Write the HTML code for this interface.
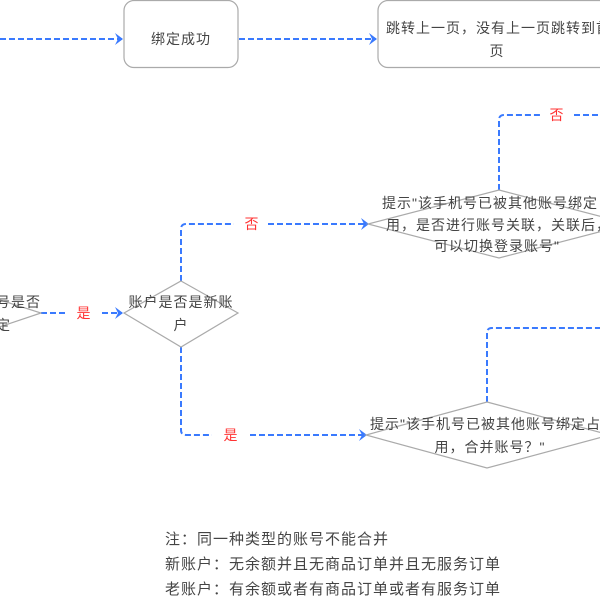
<!DOCTYPE html>
<html><head><meta charset="utf-8"><style>
body{margin:0;background:#fff;}
svg text{font-family:"Liberation Sans","Noto Sans CJK SC",sans-serif;font-size:14px;letter-spacing:1px;fill:#444;}
</style></head><body>
<svg width="600" height="600" viewBox="0 0 600 600" xmlns="http://www.w3.org/2000/svg">
<defs><marker id="a" markerWidth="10" markerHeight="12" refX="8" refY="6" orient="auto" markerUnits="userSpaceOnUse"><path d="M1,0 L9,6 L1,12 L4,6 Z" fill="#3a7afe"/></marker></defs>
<g fill="none" stroke="#3a7afe" stroke-width="2" stroke-dasharray="6,3">
<path d="M0,39 H122" marker-end="url(#a)"/>
<path d="M239,39 H376" marker-end="url(#a)"/>
<path d="M499,190 V120 Q499,115 504,115 H541 M574,115 H600"/>
<path d="M181,281 V229 Q181,224 186,224 H234 M268,224 H368" marker-end="url(#a)"/>
<path d="M41,313 H66 M102,313 H122" marker-end="url(#a)"/>
<path d="M181,347 V430 Q181,435 186,435 H212 M250,435 H366" marker-end="url(#a)"/>
<path d="M487,402 V333 Q487,328 492,328 H600"/>
</g>
<g fill="#fff" stroke="#aaa" stroke-width="1.2">
<rect x="124" y="0.5" width="114" height="67" rx="10"/>
<rect x="378" y="0.5" width="240" height="67" rx="10"/>
<path d="M499,190 L630,224 L499,258 L368,224 Z"/>
<path d="M181,281 L238,313 L181,347 L124,313 Z"/>
<path d="M-60,281 L41,313 L-60,347 Z"/>
<path d="M487,402 L610,435 L487,468 L366,435 Z"/>
</g>
<text x="181" y="44" text-anchor="middle">绑定成功</text>
<text x="386" y="33">跳转上一页，没有上一页跳转到首</text>
<text x="497" y="56" text-anchor="middle">页</text>
<text x="382" y="208">提示"该手机号已被其他账号绑定占</text>
<text x="386" y="230">用，是否进行账号关联，关联后，</text>
<text x="497" y="251" text-anchor="middle">可以切换登录账号"</text>
<text x="181" y="307" text-anchor="middle">账户是否是新账</text>
<text x="181" y="330" text-anchor="middle">户</text>
<text x="-4" y="307">号是否</text>
<text x="-4" y="330">定</text>
<text x="370" y="429">提示"该手机号已被其他账号绑定占</text>
<text x="490" y="452" text-anchor="middle">用，合并账号？"</text>
<text x="557" y="120" text-anchor="middle" style="fill:#f33">否</text>
<text x="252" y="229" text-anchor="middle" style="fill:#f33">否</text>
<text x="84" y="318" text-anchor="middle" style="fill:#f33">是</text>
<text x="231" y="440" text-anchor="middle" style="fill:#f33">是</text>
<text x="165" y="544" style="font-size:15px;letter-spacing:1px">注：同一种类型的账号不能合并</text>
<text x="165" y="569" style="font-size:15px;letter-spacing:1px">新账户：无余额并且无商品订单并且无服务订单</text>
<text x="165" y="594" style="font-size:15px;letter-spacing:1px">老账户：有余额或者有商品订单或者有服务订单</text>
</svg>
</body></html>
